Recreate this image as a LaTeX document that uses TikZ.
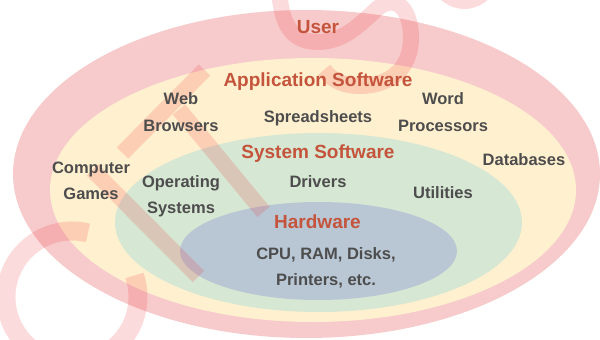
\documentclass[tikz,border=0pt]{standalone}
\usepackage{fontspec}
\setmainfont{Liberation Sans}
\usetikzlibrary{shapes.geometric}

\definecolor{userfill}{RGB}{247,203,203}
\definecolor{appfill}{RGB}{255,240,207}
\definecolor{sysfill}{RGB}{214,231,211}
\definecolor{hwfill}{RGB}{185,199,212}
\definecolor{titlecol}{RGB}{196,84,60}
\definecolor{bodycol}{RGB}{77,77,77}
\definecolor{markred}{RGB}{240,40,50}

\begin{document}
\begin{tikzpicture}[x=1pt, y=-1pt,
  layer/.style={ellipse, inner sep=0pt, draw=none},
  title/.style={anchor=base, inner sep=0pt, text=titlecol,
    font=\fontsize{19}{23}\selectfont\bfseries},
  item/.style={anchor=base, inner sep=0pt, text=bodycol,
    font=\fontsize{16.5}{20}\selectfont\bfseries},
  logo/.style={draw=markred, draw opacity=0.17, line width=16pt, line cap=butt}
]
\useasboundingbox (0,0) rectangle (600,340);
\clip (0,0) rectangle (600,340);

% nested layers
\node[layer, fill=userfill, minimum width=587pt, minimum height=328pt] (user) at (306.5,174) {};
\node[layer, fill=appfill,  minimum width=526pt, minimum height=264pt] (app)  at (313,190) {};
\node[layer, fill=sysfill,  minimum width=407pt, minimum height=179pt] (sys)  at (318.5,222.5) {};
\node[layer, fill=hwfill,   minimum width=277pt, minimum height=98pt]  (hw)   at (318.5,251) {};

% translucent logo strokes
\draw[logo] (279,-20) .. controls (279,25) and (292,42) .. (318,42)
  .. controls (345,42) and (362,22) .. (378,8)
  .. controls (395,-6) and (411,8) .. (411,38)
  .. controls (411,70) and (388,86) .. (360,86)
  .. controls (342,86) and (331,79) .. (324,70);
\draw[logo] (436,-20) .. controls (450,8) and (478,8) .. (494,-20);
\draw[logo] (122.5,153) -- (204.5,70);
\draw[logo] (179,109.5) -- (263.5,212);
\draw[logo] (92.5,170) -- (198.5,276.5);
\coordinate (ringc) at (72,297);
\draw[logo, line width=19pt] (ringc) ++(-76:66) arc[start angle=-76, end angle=-379, radius=66];

% layer titles
\node[title] (tuser) at (318,33)  {User};
\node[title] (tapp)  at (318,86)  {Application Software};
\node[title] (tsys)  at (318,158) {System Software};
\node[title] (thw)   at (317.5,228) {Hardware};

% application software
\node[item] (web1)  at (181,104) {Web};
\node[item] (web2)  at (181,131) {Browsers};
\node[item] (sheet) at (318,122) {Spreadsheets};
\node[item] (word1) at (443,104) {Word};
\node[item] (word2) at (443,131) {Processors};
\node[item] (db)    at (524,165) {Databases};
\node[item] (game1) at (91,173)  {Computer};
\node[item] (game2) at (91,199)  {Games};

% system software
\node[item] (os1)   at (181,187) {Operating};
\node[item] (os2)   at (181,213) {Systems};
\node[item] (drv)   at (318,187) {Drivers};
\node[item] (util)  at (443,198) {Utilities};

% hardware
\node[item] (hw1)   at (326,259) {CPU, RAM, Disks,};
\node[item] (hw2)   at (326,285) {Printers, etc.};
\end{tikzpicture}
\end{document}
